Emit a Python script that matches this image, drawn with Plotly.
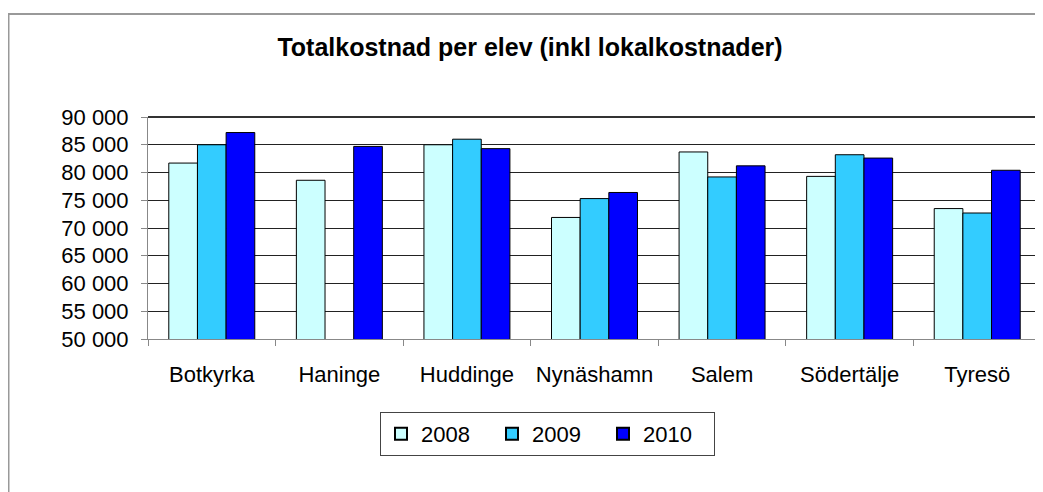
import plotly.graph_objects as go

categories = ["Botkyrka", "Haninge", "Huddinge", "Nynäshamn", "Salem", "Södertälje", "Tyresö"]
years = ["2008", "2009", "2010"]
values_2008 = [81700, 78600, 85000, 71900, 83700, 79300, 73500]
values_2009 = [85000, None, 86000, 75300, 79200, 83200, 72700]
values_2010 = [87200, 84700, 84300, 76400, 81200, 82600, 80400]
colors = ["#CCFFFF", "#33CCFF", "#0000FF"]
tick_vals = [50000, 55000, 60000, 65000, 70000, 75000, 80000, 85000, 90000]
tick_text = ["50 000", "55 000", "60 000", "65 000", "70 000", "75 000", "80 000", "85 000", "90 000"]
title_text = "Totalkostnad per elev (inkl lokalkostnader)"

FONT = "Liberation Sans, Arial, sans-serif"

fig = go.Figure()
for name, vals, col in zip(years, [values_2008, values_2009, values_2010], colors):
    fig.add_trace(go.Bar(
        x=categories, y=vals, name=name,
        marker=dict(color=col, line=dict(color="#000000", width=1)),
    ))

# page body has an 8px default margin; work in window coordinates and shift
OFF = 8
W, H = 1043 - OFF, 492 - OFF
L, R, T, B = 148 - OFF, 1041 - OFF, 117 - OFF, 339 - OFF

def px(x):  # window x -> paper x
    return (x - OFF - L) / (R - L)

def py(y):  # window y -> paper y
    return (B - (y - OFF)) / (B - T)

fig.update_layout(
    width=W, height=H,
    margin=dict(l=L, r=W - R, t=T, b=H - B),
    paper_bgcolor="white", plot_bgcolor="white",
    barmode="group", bargap=0.326, bargroupgap=0,
    font=dict(family=FONT, size=22, color="#000000"),
    title=dict(text="<b>" + title_text + "</b>", x=px(530), xref="paper",
               xanchor="center", y=1 - (47 - OFF) / H, yanchor="middle",
               font=dict(family=FONT, size=25, color="#000000")),
    showlegend=True,
    legend=dict(orientation="h", x=px(380), xanchor="left", y=py(412), yanchor="top",
                bordercolor="#444444", borderwidth=1, bgcolor="white",
                font=dict(family=FONT, size=22, color="#000000"),
                entrywidth=66, entrywidthmode="pixels",
                itemsizing="constant", traceorder="normal"),
    xaxis=dict(showgrid=False, showline=True, linecolor="#888888", linewidth=1,
               ticks="outside", ticklen=6, tickcolor="#888888",
               tickson="boundaries", tickfont=dict(family=FONT, size=22),
               ticklabelstandoff=16, mirror=False),
    yaxis=dict(range=[50000, 90000], tickvals=tick_vals, ticktext=tick_text,
               showgrid=True, gridcolor="#222222", gridwidth=1,
               showline=True, linecolor="#888888", linewidth=1,
               ticks="outside", ticklen=6, tickcolor="#888888",
               ticklabelstandoff=8,
               tickfont=dict(family=FONT, size=22), zeroline=False),
    shapes=[
        # plot area top and right border
        dict(type="line", xref="paper", yref="paper", x0=0, x1=1, y0=1, y1=1,
             line=dict(color="#333333", width=2)),
        dict(type="line", xref="paper", yref="paper", x0=1, x1=1, y0=0, y1=1,
             line=dict(color="#888888", width=2)),
        # outer chart border
        dict(type="line", xref="paper", yref="paper", x0=px(8.5), x1=px(8.5), y0=py(14), y1=py(510),
             line=dict(color="#999999", width=2)),
        dict(type="line", xref="paper", yref="paper", x0=px(8), x1=px(1060), y0=py(14), y1=py(14),
             line=dict(color="#999999", width=2)),
    ],
)

fig.write_html("out.html")
